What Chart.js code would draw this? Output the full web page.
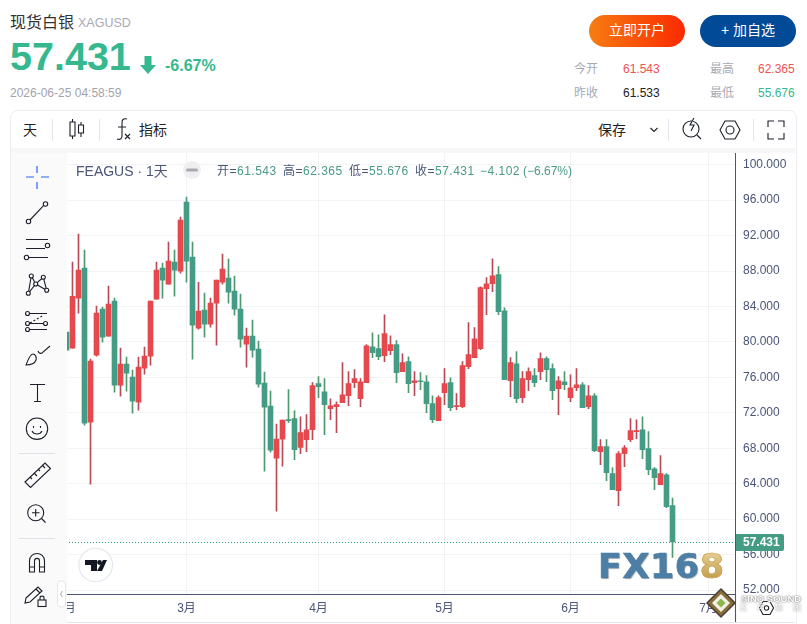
<!DOCTYPE html>
<html>
<head>
<meta charset="utf-8">
<title>现货白银 XAGUSD</title>
<script src="https://cdn.jsdelivr.net/npm/chart.js@4"></script>
<style>
html,body{margin:0;padding:0;background:#fff;}
#page{position:relative;width:807px;height:624px;overflow:hidden;font-family:"Liberation Sans","Noto Sans CJK SC",sans-serif;}
#page .t{position:absolute;white-space:nowrap;line-height:1;}
#box{position:absolute;left:10px;top:110px;width:785px;height:540px;border:1px solid #ececf2;border-radius:8px;box-sizing:content-box;}
#band{position:absolute;left:11px;top:148px;width:784px;height:5px;background:#f7f7f7;}
#side{position:absolute;left:11px;top:153px;width:56px;height:471px;background:#fafafa;z-index:3;}
#chart{position:absolute;left:47px;top:138px;z-index:1;}
#icons{position:absolute;left:0;top:0;z-index:4;pointer-events:none;}
.btn{position:absolute;top:15px;width:96px;height:32px;border-radius:16px;color:#fff;font-size:14px;line-height:31px;text-align:center;}
.over{z-index:5;}
.sep{position:absolute;width:1px;background:#e4e5ee;}
.lg{font-size:12px;letter-spacing:.5px;color:#4a5578;z-index:5;}
.lv{color:#4a9a84;}
#fx{position:absolute;left:598px;top:550px;font:bold 33px "DejaVu Sans",sans-serif;letter-spacing:.5px;line-height:1;z-index:5;color:#4d7ea5;-webkit-text-stroke:.7px #4d7ea5;text-shadow:1px 1px 1px rgba(70,70,70,.45);transform:scaleX(1.06);transform-origin:left top;}
#fx b{background:linear-gradient(180deg,#eed9a0,#b98f3c);-webkit-background-clip:text;background-clip:text;color:transparent;text-shadow:none;-webkit-text-stroke:.7px #c9a458;}
</style>
</head>
<body>
<div id="page">
  <div id="box"></div>
  <div id="band"></div>
  <div id="side"></div>
  <canvas id="chart" width="748" height="484"></canvas>

  <div class="t" style="left:10px;top:15px;font-size:16px;color:#333;">现货白银</div>
  <div class="t" style="left:78px;top:17px;font-size:12.5px;color:#a9a9b4;">XAGUSD</div>
  <div class="t" style="left:10px;top:37px;font-size:39.500px;font-weight:bold;color:#36b88f;">57.431</div>
  <div class="t" style="left:165px;top:58px;font-size:16px;font-weight:bold;color:#36b88f;">-6.67%</div>
  <div class="t" style="left:10px;top:87px;font-size:12px;color:#a3a3ab;">2026-06-25 04:58:59</div>

  <div class="btn" style="left:589px;background:linear-gradient(90deg,#f77d12,#fa2900);">立即开户</div>
  <div class="btn" style="left:700px;background:#014a97;">+ 加自选</div>

  <div class="t" style="left:574px;top:63px;font-size:12px;color:#a9a9b4;">今开</div>
  <div class="t" style="left:623px;top:63px;font-size:12px;color:#f0524f;">61.543</div>
  <div class="t" style="left:710px;top:63px;font-size:12px;color:#a9a9b4;">最高</div>
  <div class="t" style="left:758px;top:63px;font-size:12px;color:#f0524f;">62.365</div>
  <div class="t" style="left:574px;top:87px;font-size:12px;color:#a9a9b4;">昨收</div>
  <div class="t" style="left:623px;top:87px;font-size:12px;color:#222;">61.533</div>
  <div class="t" style="left:710px;top:87px;font-size:12px;color:#a9a9b4;">最低</div>
  <div class="t" style="left:758px;top:87px;font-size:12px;color:#36b88f;">55.676</div>

  <div class="t" style="left:23px;top:123px;font-size:14px;color:#222;">天</div>
  <div class="sep" style="left:52px;top:119px;height:22px;"></div>
  <div class="sep" style="left:99px;top:119px;height:22px;"></div>
  <div class="t" style="left:139px;top:123px;font-size:14px;color:#222;">指标</div>
  <div class="t" style="left:598px;top:123px;font-size:14px;color:#222;">保存</div>
  <div class="sep" style="left:668px;top:119px;height:22px;"></div>
  <div class="sep" style="left:753px;top:119px;height:22px;"></div>

  <div class="t over" style="left:76px;top:164px;font-size:14px;color:#4a5578;">FEAGUS · 1天</div>
  <div class="t lg" style="left:217px;top:165px;">开=<span class="lv">61.543</span></div>
  <div class="t lg" style="left:283px;top:165px;">高=<span class="lv">62.365</span></div>
  <div class="t lg" style="left:349px;top:165px;">低=<span class="lv">55.676</span></div>
  <div class="t lg" style="left:415px;top:165px;">收=<span class="lv">57.431</span></div>
  <div class="t lg" style="left:480px;top:165px;"><span class="lv">−4.102</span></div>
  <div class="t lg" style="left:523px;top:165px;letter-spacing:0;"><span class="lv">(−6.67%)</span></div>

  <div id="fx">FX16<b>8</b></div>

  <svg id="icons" width="807" height="624" fill="none" stroke="#1c1f2b" stroke-width="1.1">
    <path d="M144.500 56h7v9h4.500l-8 9-8-9h4.500z" fill="#36b88f" stroke="none"/>

    <!-- toolbar -->
    <path d="M72.500 119v3M72.500 136v3M70 122h5v14h-5zM81 122v3M81 133v4M78.500 125h5v8h-5z"/>
    <path d="M127 119c-4-1-5 1-5 4v13c0 3-2 4-5 3M118 127h8M125 134l5 5M130 134l-5 5"/>
    <path d="M650.500 128l3.500 3.500 3.500-3.500"/>
    <circle cx="691" cy="129" r="8"/><path d="M697 135l4 4M694 118l-4 7h4l-3 6" fill="#fff"/>
    <path d="M720 130l5-9h10l5 9-5 9h-10z"/><circle cx="730" cy="130" r="4"/>
    <path d="M768 127v-6h6M778 121h6v6M784 133v6h-6M774 139h-6v-6"/>

    <!-- drawing tools -->
    <g stroke="#2962ff" stroke-width="1.200"><path d="M26 177h8M41 177h8M37 166v7M37 182v7"/></g>
    <path d="M30 220l13.800-14.600"/><circle cx="28.500" cy="221.500" r="2.200"/><circle cx="45.500" cy="204" r="2.200"/>
    <path d="M26 239.500h22M26 248.500h19M29 257.500h19"/><circle cx="47.500" cy="245.500" r="2.200"/><circle cx="26.500" cy="257.500" r="2.200"/>
    <path d="M28.300 293.300l3-17.300 4.400 8 7.600-6.700 3.400 13-11-6.300zM31.300 276l-3 17.300M35.700 284l-7.400 9.300"/>
    <g fill="#fafafa"><circle cx="28.300" cy="293.300" r="2"/><circle cx="31.300" cy="276" r="2"/><circle cx="35.700" cy="284" r="2"/><circle cx="43.300" cy="277.300" r="2"/><circle cx="46.700" cy="290.300" r="2"/></g>
    <path d="M30 313.500h17M30 323.500h14M30 329.500h17"/><path d="M30 323l14-8" stroke-dasharray="2 2"/>
    <circle cx="27.500" cy="313.500" r="2"/><circle cx="27.500" cy="323.500" r="2"/><circle cx="27.500" cy="329.500" r="2"/><circle cx="45.500" cy="323.500" r="2"/>
    <path d="M26 365c5 0 9-2 10-5 1-3-1-6-3-6-3 0-5 6-7 11zM38 351c1 3 4 3 5 1l7-6"/>
    <path d="M30 384.500h15M37.500 384.500v17M34 401.500h7"/>
    <circle cx="37" cy="428.700" r="10.700"/><path d="M32 431c2 4 8 4 10 0M33.500 426v2M40.500 426v2"/>
    <path d="M19 453.500h36M19 538.500h36" stroke="#dfe0ea"/>
    <path d="M25 482l20-19 5.500 5.500-20 19zM30 477l2 2M34 473l3 3M38 469l2 2M42 465l3 3"/>
    <circle cx="35.700" cy="512.700" r="8"/><path d="M41.500 518.500l4 4M32 512.700h7.500M35.700 509v7.500"/>
    <path d="M29.500 572v-11c0-10 15-10 15 0v11h-5v-11c0-3.500-5-3.500-5 0v11zM29.500 567h5M39.500 567h5"/>
    <path d="M26 598l12-11 4 4-12 11-5 1zM36 589l4 4"/><rect x="38" y="600" width="8" height="6.500" fill="#fafafa"/><path d="M40 600v-2c0-2.500 4-2.500 4 0v2"/>
    <rect x="57.500" y="581" width="8" height="26" rx="4" fill="#fff" stroke="#e6e6f0"/><path d="M62.500 591l-2 3 2 3" stroke="#b5b5bd"/>

    <!-- pane badges and logos -->
    <circle cx="192" cy="170" r="9" fill="#efeff2" stroke="none"/><path d="M187.500 170h9" stroke="#a9a9b0" stroke-width="3" stroke-linecap="round"/>
    <circle cx="95.700" cy="565" r="16.800" fill="#fff" stroke="#e4e4ee"/>
    <path d="M85 560h12v11h-6v-6h-6z" fill="#131722" stroke="none"/><circle cx="99.500" cy="562.500" r="2.400" fill="#131722" stroke="none"/><path d="M103 560h4l-5 11h-5z" fill="#131722" stroke="none"/>
    <path d="M735.500 594v28" stroke="#4a5578"/>
    <path d="M67 622.500h728" stroke="#e6e6f0"/>
    <path d="M721 589l14 14-14 14-14-14z" fill="#8a6d3c" stroke="#4a3f33" stroke-width="1.500"/>
    <path d="M721 594l9 9-9 9-9-9z" fill="#f1f1e6" stroke="none"/><path d="M721 598.500l4.500 4.500-4.500 4.500-4.500-4.500z" fill="#8db54a" stroke="none"/>
    <path d="M759.500 608l3.500-6.500h7l3.500 6.500-3.500 6.500h-7z" stroke="#222"/><circle cx="766.500" cy="608" r="2.200" stroke="#222"/>
  </svg>
  <div class="t over" style="left:741px;top:594px;font-size:9.500px;font-weight:bold;color:#fff;text-shadow:0 0 2px #777,0 0 1px #777;">SINO SOUND</div>
  <div class="t over" style="left:739px;top:604px;font-size:8px;letter-spacing:10px;color:#fff;text-shadow:0 0 2px #777;">汉声集团</div>
</div>

<script>
// daily OHLC, oldest first
const opens = [
  81.10, 79.30, 84.94, 88.33, 70.94, 78.51, 83.70, 80.65, 84.60, 75.12,
  77.49, 76.02, 73.20, 77.04, 78.39, 84.83, 88.33, 86.52, 89.00, 87.99,
  95.77, 89.57, 81.55, 83.58, 82.00, 84.37, 86.74, 87.20, 85.73, 83.70,
  79.75, 80.65, 79.18, 75.35, 72.75, 66.88, 69.03, 71.22, 71.34, 68.10,
  68.97, 70.09, 75.29, 74.38, 72.46, 72.69, 73.14, 73.93, 75.40, 73.59,
  75.40, 79.46, 79.24, 78.45, 79.01, 79.69, 76.64, 77.77, 75.40, 75.62,
  75.51, 73.03, 71.11, 74.27, 75.40, 72.69, 72.69, 77.20, 78.22, 79.24,
  86.01, 86.57, 87.59, 83.52, 75.62, 77.54, 73.71, 75.74, 76.19, 76.64,
  78.11, 76.98, 74.72, 75.51, 73.71, 74.83, 75.17, 72.69, 73.93, 67.61,
  68.18, 65.13, 63.21, 67.39, 68.97, 69.87, 70.09, 67.95, 65.69, 63.89,
  65.01, 61.543
];
const highs = [
  81.10, 89.00, 92.16, 90.36, 78.05, 84.04, 83.92, 86.29, 84.94, 79.30,
  78.28, 76.81, 78.28, 79.41, 84.60, 89.00, 88.89, 91.26, 90.36, 94.08,
  96.34, 91.26, 86.74, 85.50, 84.94, 86.97, 89.91, 89.34, 87.42, 85.39,
  81.55, 82.46, 80.09, 76.59, 74.44, 70.72, 71.17, 74.61, 72.24, 71.56,
  71.79, 75.40, 76.08, 75.85, 73.59, 73.25, 77.66, 76.64, 76.87, 75.85,
  79.69, 81.04, 80.81, 83.07, 80.70, 80.14, 78.67, 78.33, 76.64, 76.53,
  76.19, 73.93, 73.93, 76.98, 75.96, 74.16, 77.77, 82.17, 81.61, 86.23,
  87.25, 89.39, 88.49, 83.86, 78.22, 78.90, 76.64, 77.09, 76.98, 78.78,
  78.33, 77.54, 76.08, 76.64, 76.30, 76.98, 75.40, 75.06, 74.16, 68.97,
  68.97, 65.81, 67.61, 68.29, 71.34, 71.22, 71.56, 69.87, 65.81, 67.16,
  65.13, 62.365
];
const lows = [
  79.07, 79.30, 83.25, 70.60, 63.95, 78.39, 79.97, 80.65, 74.33, 73.88,
  74.44, 71.96, 72.30, 76.36, 77.38, 84.83, 84.94, 86.52, 85.16, 87.76,
  86.74, 78.05, 81.44, 80.54, 81.67, 79.63, 86.52, 84.37, 83.02, 79.41,
  77.15, 78.28, 74.89, 65.41, 67.56, 60.90, 65.98, 70.88, 66.70, 67.38,
  67.61, 68.97, 73.71, 69.53, 71.22, 69.76, 73.14, 72.80, 74.83, 72.69,
  75.40, 78.22, 77.99, 77.77, 78.56, 75.40, 76.64, 74.27, 73.93, 74.61,
  72.01, 70.88, 71.11, 72.92, 72.24, 72.35, 72.58, 76.98, 78.22, 79.12,
  83.07, 85.67, 83.07, 75.74, 73.82, 73.14, 73.14, 74.50, 74.95, 75.74,
  75.51, 73.48, 71.79, 74.61, 73.25, 74.50, 72.58, 72.46, 67.61, 66.14,
  64.34, 63.32, 61.52, 65.92, 68.74, 69.08, 66.82, 65.01, 63.32, 63.89,
  61.29, 55.676
];
const closes = [
  79.07, 85.16, 88.10, 70.83, 77.83, 83.25, 80.54, 84.26, 75.12, 77.49,
  76.47, 73.31, 77.15, 78.39, 84.60, 88.10, 86.97, 89.12, 88.10, 93.74,
  89.12, 81.89, 83.47, 82.00, 84.37, 86.97, 88.21, 85.62, 83.70, 80.31,
  80.65, 79.07, 75.23, 72.64, 67.78, 69.03, 71.17, 71.11, 67.84, 69.76,
  70.09, 75.06, 74.95, 72.92, 72.80, 72.92, 74.04, 75.29, 75.85, 75.51,
  79.57, 78.78, 78.33, 80.93, 79.69, 76.53, 77.66, 75.29, 75.62, 75.51,
  73.03, 71.22, 73.71, 75.29, 72.58, 72.80, 77.32, 78.56, 80.36, 86.12,
  86.57, 87.47, 83.41, 75.74, 77.66, 73.59, 75.85, 76.64, 75.40, 78.11,
  76.87, 74.50, 75.62, 75.17, 74.83, 75.17, 72.58, 73.93, 67.72, 68.18,
  65.24, 63.32, 67.39, 68.06, 69.98, 69.98, 67.84, 65.58, 64.68, 65.13,
  61.40, 57.431
];
// candle index where each month starts
const monthIndex = [0, 20, 42, 63, 84, 107];
const monthLabels = ['2月', '3月', '4月', '5月', '6月', '7月'];
const priceTicks = [52, 56, 60, 64, 68, 72, 76, 80, 84, 88, 92, 96, 100];
const lastPrice = 57.431;

const AXIS = '#4a5578', GRID = '#f3f3f5';
const UP = '#e5484d', DOWN = '#459c85', UP_WICK = '#b94a55', DOWN_WICK = '#4c9a6e';
const FONT = '"Liberation Sans","Noto Sans CJK SC",sans-serif';

function isUp(i) {
    return closes[i] >= opens[i];
}

const bodies = opens.map((o, i) => ({ x: i, y: [Math.min(o, closes[i]), Math.max(o, closes[i])] }));
const wicks = lows.map((l, i) => ({ x: i, y: [l, highs[i]] }));

// last price dotted line and tag on the axis
const priceTag = {
    id: 'priceTag',
    beforeDatasetsDraw(chart) {
        const { ctx, chartArea, scales } = chart;
        const py = Math.round(scales.y.getPixelForValue(lastPrice)) + 0.5;
        ctx.save();
        ctx.strokeStyle = '#2c9f80';
        ctx.setLineDash([1, 2]);
        ctx.beginPath();
        ctx.moveTo(chartArea.left, py);
        ctx.lineTo(chartArea.right, py);
        ctx.stroke();
        ctx.restore();
    },
    afterDraw(chart) {
        const { ctx, chartArea, scales } = chart;
        const py = Math.round(scales.y.getPixelForValue(lastPrice));
        ctx.save();
        ctx.fillStyle = DOWN;
        ctx.beginPath();
        ctx.roundRect(chartArea.right + 1, py - 8, 48, 17, [0, 2, 2, 0]);
        ctx.fill();
        ctx.fillStyle = '#fff';
        ctx.font = 'bold 12px ' + FONT;
        ctx.textBaseline = 'middle';
        ctx.fillText(lastPrice.toFixed(3), chartArea.right + 8, py + 1);
        ctx.restore();
    }
};

new Chart(document.getElementById('chart'), {
    type: 'bar',
    data: {
        datasets: [
            {
                label: 'body',
                data: bodies,
                grouped: false,
                barThickness: 5,
                minBarLength: 1,
                order: 1,
                backgroundColor: ctx => isUp(ctx.dataIndex) ? UP : DOWN
            },
            {
                label: 'wick',
                data: wicks,
                grouped: false,
                barThickness: 1,
                order: 2,
                backgroundColor: ctx => isUp(ctx.dataIndex) ? UP_WICK : DOWN_WICK
            }
        ]
    },
    options: {
        responsive: false,
        animation: false,
        devicePixelRatio: 1,
        layout: { autoPadding: false, padding: { left: 19, right: 0, top: 0, bottom: 0 } },
        plugins: { legend: { display: false }, tooltip: { enabled: false } },
        scales: {
            x: {
                type: 'linear',
                offset: false,
                min: -0.0833,
                max: 111.4167,
                grid: { color: GRID, drawTicks: false, offset: false },
                border: { color: AXIS, width: 1 },
                afterBuildTicks: axis => { axis.ticks = monthIndex.map(v => ({ value: v })); },
                afterFit: axis => { axis.height = 28; },
                ticks: {
                    autoSkip: false,
                    maxRotation: 0,
                    padding: 7,
                    color: AXIS,
                    font: { family: FONT, size: 12 },
                    callback: v => monthLabels[monthIndex.indexOf(v)]
                }
            },
            y: {
                position: 'right',
                min: 51.55,
                max: 101.3,
                grid: { color: GRID, drawTicks: false },
                border: { color: AXIS, width: 1 },
                afterBuildTicks: axis => { axis.ticks = priceTicks.map(v => ({ value: v })); },
                afterFit: axis => { axis.width = 60; },
                ticks: {
                    padding: 8,
                    color: AXIS,
                    font: { family: FONT, size: 12 },
                    callback: v => v.toFixed(3)
                }
            }
        }
    },
    plugins: [priceTag]
});
</script>
</body>
</html>
